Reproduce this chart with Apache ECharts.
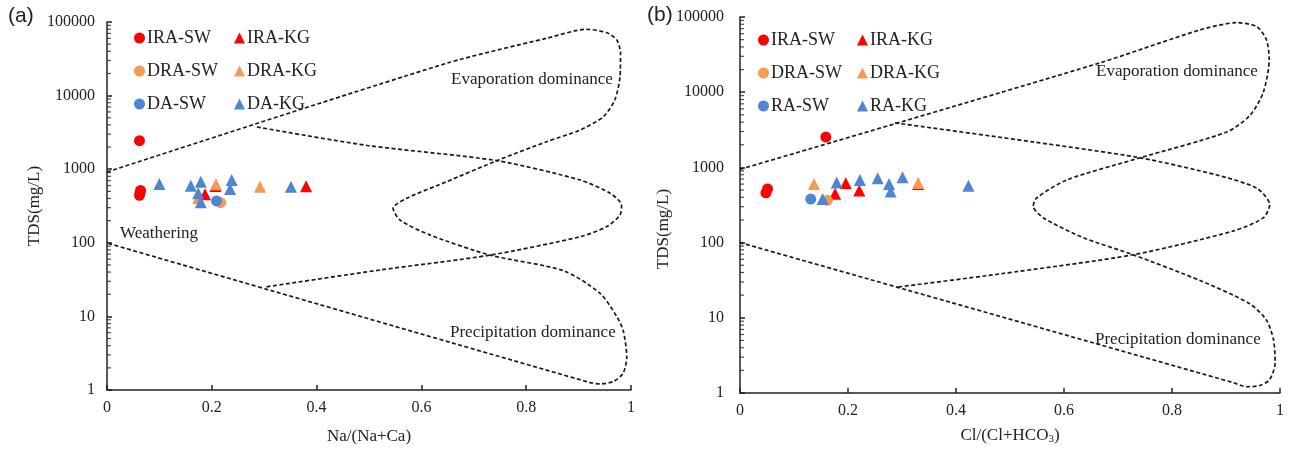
<!DOCTYPE html>
<html>
<head>
<meta charset="utf-8">
<script src="https://cdn.jsdelivr.net/npm/echarts@6/dist/echarts.min.js"></script>
<style>
  html, body { margin: 0; padding: 0; background: #fff; }
  #chart { width: 1291px; height: 450px; }
</style>
</head>
<body>
<div id="chart"></div>
<script>
// ---- data: (a) Na/(Na+Ca) vs TDS ----
const aIraSw = [[0.062, 2440], [0.062, 442], [0.064, 515], [0.063, 480]];
const aDraSw = [[0.217, 351]];
const aDaSw = [[0.209, 370]];
const aIraKg = [[0.207, 590], [0.187, 456], [0.380, 585]];
const aDraKg = [[0.208, 624], [0.174, 403], [0.292, 578]];
const aDaKg = [[0.100, 630], [0.160, 597], [0.179, 676], [0.174, 470], [0.179, 355],
  [0.238, 713], [0.235, 538], [0.351, 578]];

// ---- data: (b) Cl/(Cl+HCO3) vs TDS ----
const bIraSw = [[0.159, 2535], [0.051, 518], [0.048, 459]];
const bDraSw = [[0.162, 365]];
const bRaSw = [[0.131, 379]];
const bIraKg = [[0.176, 445], [0.196, 615], [0.221, 494], [0.330, 600]];
const bDraKg = [[0.137, 603], [0.330, 620]];
const bRaKg = [[0.153, 379], [0.179, 629], [0.222, 680], [0.255, 716], [0.276, 603],
  [0.279, 479], [0.301, 738], [0.423, 568]];

// Gibbs boundary curves
const aOuter = [[0, 916], [0.648, 27480], [0.839, 60100], [0.915, 79600], [0.954, 71600],
  [0.973, 56900], [0.980, 37600], [0.979, 18070], [0.969, 8710], [0.947, 5160],
  [0.903, 3410], [0.839, 2365], [0.744, 1306], [0.648, 676], [0.572, 403],
  [0.546, 294], [0.559, 204], [0.616, 128], [0.731, 68], [0.871, 41.8],
  [0.941, 20.6], [0.973, 9.9], [0.985, 6.5], [0.992, 2.83], [0.985, 1.69],
  [0.966, 1.30], [0.941, 1.21], [0.922, 1.26], [0, 99.4]];
const aInner = [[0.286, 3745], [0.497, 2100], [0.744, 1306], [0.903, 713], [0.960, 471],
  [0.982, 326], [0.979, 239], [0.954, 166], [0.903, 121], [0.731, 68],
  [0.521, 42.7], [0.302, 25.1]];
const bOuter = [[0, 942], [0.667, 24600], [0.852, 67400], [0.920, 84100], [0.957, 74500],
  [0.975, 49800], [0.980, 27200], [0.969, 9910], [0.944, 4880], [0.901, 2950],
  [0.741, 1342], [0.605, 681], [0.549, 391], [0.543, 304], [0.562, 213],
  [0.636, 116], [0.728, 68.9], [0.852, 31.3], [0.944, 15.4], [0.975, 9.3],
  [0.988, 5.1], [0.991, 2.5], [0.981, 1.51], [0.963, 1.26], [0.938, 1.21],
  [0.914, 1.37], [0, 100]];
const bInner = [[0.287, 3910], [0.543, 2180], [0.741, 1342], [0.883, 792], [0.957, 529],
  [0.981, 319], [0.969, 213], [0.914, 143], [0.728, 68.9], [0.481, 38.3],
  [0.291, 25.6]];

// minor log ticks on the TDS axis
const minorSteps = [2, 3, 4, 5, 6, 7, 8, 9];
const decades = [1, 10, 100, 1000, 10000];
const minorTicks = [];
decades.forEach((d) => minorSteps.forEach((s) => minorTicks.push([0, s * d])));

const colors = { ira: "#FF0000", dra: "#F39A55", da: "#4F86D4" };
const serif = "Liberation Serif";

const chart = echarts.init(document.getElementById("chart"));

const xAxisBase = (idx, name, nameGap) => ({
  gridIndex: idx,
  type: "value",
  min: 0,
  max: 1,
  interval: 0.2,
  name: name,
  nameLocation: "middle",
  nameGap: nameGap,
  nameTextStyle: {
    color: "#222", fontFamily: serif, fontSize: 17,
    rich: { sub: { fontSize: 11, verticalAlign: "bottom", padding: [8, 0, 0, 0], fontFamily: serif, color: "#222" } },
  },
  axisLine: { lineStyle: { color: "#222", width: 1.5 } },
  axisTick: { inside: true, length: 5, lineStyle: { color: "#222", width: 1.5 } },
  axisLabel: { color: "#222", fontFamily: serif, fontSize: 16, margin: 10 },
  splitLine: { show: false },
});

const yAxisBase = (idx, nameGap, margin, namePad) => ({
  gridIndex: idx,
  type: "log",
  logBase: 10,
  min: 1,
  max: 100000,
  name: "TDS(mg/L)",
  nameLocation: "middle",
  nameGap: nameGap,
  nameTextStyle: { color: "#222", fontFamily: serif, fontSize: 17, padding: [0, namePad, 0, 0] },
  axisLine: { show: true, lineStyle: { color: "#222", width: 1.5 } },
  axisTick: { inside: true, length: 5, lineStyle: { color: "#222", width: 1.5 } },
  axisLabel: {
    color: "#222", fontFamily: serif, fontSize: 16, margin: margin,
    formatter: (v) => String(Math.round(v)),
  },
  splitLine: { show: false },
});

const curve = (data, idx) => ({
  type: "line",
  xAxisIndex: idx,
  yAxisIndex: idx,
  data: data,
  smooth: 0.25,
  symbol: "none",
  silent: true,
  lineStyle: { color: "#1a1a1a", width: 1.7, type: [4, 2.5] },
  z: 1,
});

const pts = (name, data, idx, symbol, color) => ({
  name: name,
  type: "scatter",
  xAxisIndex: idx,
  yAxisIndex: idx,
  data: data,
  symbol: symbol,
  symbolSize: symbol === "circle" ? 11 : 12,
  itemStyle: { color: color, opacity: 1 },
  z: 3,
});

const ticks = (idx) => ({
  type: "scatter",
  xAxisIndex: idx,
  yAxisIndex: idx,
  data: minorTicks,
  symbol: "rect",
  symbolSize: [4, 1.2],
  symbolOffset: [2, 0],
  itemStyle: { color: "#222" },
  silent: true,
  z: 2,
});

const legendBase = (left, top, names, icon) => ({
  orient: "vertical",
  left: left,
  top: top,
  itemWidth: 11,
  itemHeight: 11,
  itemGap: 13,
  icon: icon,
  selectedMode: false,
  textStyle: { color: "#222", fontFamily: serif, fontSize: 18, lineHeight: 20, padding: [0, 0, 0, -3] },
  data: names,
});

const note = (text, x, y) => ({
  type: "text",
  left: x,
  top: y,
  style: { text: text, font: "17px 'Liberation Serif'", fill: "#222" },
});

chart.setOption({
  animation: false,
  backgroundColor: "#fff",
  grid: [
    { left: 107, top: 22, width: 524, height: 368 },
    { left: 740, top: 17, width: 540, height: 380 },
  ],
  xAxis: [
    xAxisBase(0, "Na/(Na+Ca)", 38),
    xAxisBase(1, "Cl/(Cl+HCO{sub|3})", 33),
  ],
  yAxis: [yAxisBase(0, 61, 12, 0), yAxisBase(1, 47, 16, 48)],
  legend: [
    legendBase(129, 23, ["IRA-SW", "DRA-SW", "DA-SW"], "circle"),
    legendBase(229, 23, ["IRA-KG", "DRA-KG", "DA-KG"], "triangle"),
    legendBase(753, 25, ["IRA-SW", "DRA-SW", "RA-SW"], "circle"),
    legendBase(852, 25, ["IRA-KG", "DRA-KG", "RA-KG"], "triangle"),
  ],
  graphic: [
    { type: "text", left: 8, top: 6, style: { text: "(a)", font: "21px 'Liberation Sans'", fill: "#222" } },
    { type: "text", left: 647, top: 5, style: { text: "(b)", font: "21px 'Liberation Sans'", fill: "#222" } },
    note("Evaporation dominance", 451, 71),
    note("Precipitation dominance", 450, 324),
    note("Weathering", 120, 225),
    note("Evaporation dominance", 1096, 63),
    note("Precipitation dominance", 1095, 331),
  ],
  series: [
    curve(aOuter, 0),
    curve(aInner, 0),
    curve(bOuter, 1),
    curve(bInner, 1),
    ticks(0),
    ticks(1),
    pts("IRA-SW", aIraSw, 0, "circle", colors.ira),
    pts("IRA-KG", aIraKg, 0, "triangle", colors.ira),
    pts("DRA-SW", aDraSw, 0, "circle", colors.dra),
    pts("DRA-KG", aDraKg, 0, "triangle", colors.dra),
    pts("DA-SW", aDaSw, 0, "circle", colors.da),
    pts("DA-KG", aDaKg, 0, "triangle", colors.da),
    pts("IRA-SW", bIraSw, 1, "circle", colors.ira),
    pts("IRA-KG", bIraKg, 1, "triangle", colors.ira),
    pts("DRA-SW", bDraSw, 1, "circle", colors.dra),
    pts("DRA-KG", bDraKg, 1, "triangle", colors.dra),
    pts("RA-SW", bRaSw, 1, "circle", colors.da),
    pts("RA-KG", bRaKg, 1, "triangle", colors.da),
  ],
});

window.addEventListener("resize", () => chart.resize());
</script>
</body>
</html>
